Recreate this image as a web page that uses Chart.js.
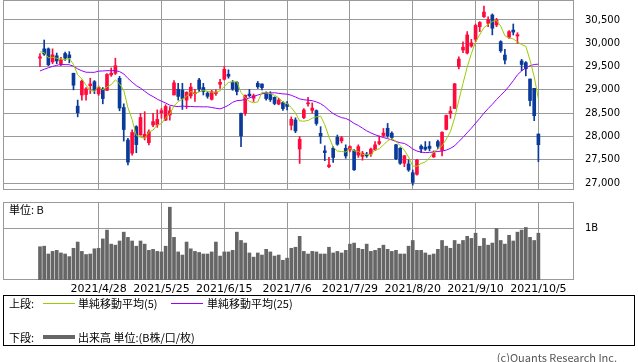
<!DOCTYPE html>
<html>
<head>
<meta charset="utf-8">
<script src="https://cdn.jsdelivr.net/npm/chart.js@4.4.1/dist/chart.umd.min.js"></script>
<style>
body{margin:0;width:638px;height:362px;position:relative;background:#fff;overflow:hidden;
font-family:"Noto Sans CJK JP","DejaVu Sans",sans-serif;font-size:11px;color:#000}
canvas{position:absolute;left:0}
.t{position:absolute;white-space:nowrap;line-height:12px}
.ln{position:absolute;width:32px;height:1px}
#legend{position:absolute;left:3px;top:295px;width:630px;height:49px;border:1px solid #000}
</style>
</head>
<body>
<canvas id="price" width="638" height="191" style="top:0"></canvas>
<canvas id="vol" width="638" height="110" style="top:190px"></canvas>
<div class="t" style="left:9px;top:203px">単位: B</div>

<div id="legend">
<div class="t" style="left:5px;top:1px">上段:</div>
<div class="ln" style="left:39px;top:7px;background:#99cc00"></div>
<div class="t" style="left:74px;top:1px">単純移動平均(5)</div>
<div class="ln" style="left:167px;top:7px;background:#9900ff"></div>
<div class="t" style="left:203px;top:1px">単純移動平均(25)</div>
<div class="t" style="left:5px;top:35px">下段:</div>
<div class="ln" style="left:39px;top:39px;height:4px;background:#666"></div>
<div class="t" style="left:74px;top:35px">出来高 単位:(B株/口/枚)</div>
</div>

<div class="t" style="right:21px;top:351px;color:#555">(c)Quants Research Inc.</div>

<script>
// trading days shown
const dates = ["2021/4/8","2021/4/9","2021/4/12","2021/4/13","2021/4/14","2021/4/15","2021/4/16","2021/4/19","2021/4/20","2021/4/21",
"2021/4/22","2021/4/23","2021/4/26","2021/4/27","2021/4/28","2021/4/30","2021/5/6","2021/5/7","2021/5/10","2021/5/11",
"2021/5/12","2021/5/13","2021/5/14","2021/5/17","2021/5/18","2021/5/19","2021/5/20","2021/5/21","2021/5/24","2021/5/25",
"2021/5/26","2021/5/27","2021/5/28","2021/5/31","2021/6/1","2021/6/2","2021/6/3","2021/6/4","2021/6/7","2021/6/8",
"2021/6/9","2021/6/10","2021/6/11","2021/6/14","2021/6/15","2021/6/16","2021/6/17","2021/6/18","2021/6/21","2021/6/22",
"2021/6/23","2021/6/24","2021/6/25","2021/6/28","2021/6/29","2021/6/30","2021/7/1","2021/7/2","2021/7/5","2021/7/6",
"2021/7/7","2021/7/8","2021/7/9","2021/7/12","2021/7/13","2021/7/14","2021/7/15","2021/7/16","2021/7/19","2021/7/20",
"2021/7/21","2021/7/26","2021/7/27","2021/7/28","2021/7/29","2021/7/30","2021/8/2","2021/8/3","2021/8/4","2021/8/5",
"2021/8/6","2021/8/10","2021/8/11","2021/8/12","2021/8/13","2021/8/16","2021/8/17","2021/8/18","2021/8/19","2021/8/20",
"2021/8/23","2021/8/24","2021/8/25","2021/8/26","2021/8/27","2021/8/30","2021/8/31","2021/9/1","2021/9/2","2021/9/3",
"2021/9/6","2021/9/7","2021/9/8","2021/9/9","2021/9/10","2021/9/13","2021/9/14","2021/9/15","2021/9/16","2021/9/17",
"2021/9/21","2021/9/22","2021/9/24","2021/9/27","2021/9/28","2021/9/29","2021/9/30","2021/10/1","2021/10/4","2021/10/5"];

const opens = [29680,29880,29880,29600,29730,29550,29780,29750,29355,28650,
28890,28900,29090,29175,28915,29010,28990,29320,29355,29247,
28620,27923,27640,28210,28030,27981,27866,28246,28246,28510,
28350,28460,28890,29012,28997,28780,28870,28920,29212,29050,
28928,28797,28920,29120,29226,29335,29160,29160,28497,28497,
28910,28820,29141,29126,28940,28910,28840,28695,28725,28695,
28240,28353,27730,28404,28700,28560,28554,28067,27690,27352,
27745,27981,27905,27745,27710,27695,27600,27570,27620,27620,
27710,27850,28020,28175,28070,27820,27745,27424,27410,27222,
27187,27790,27770,27790,27560,27890,27700,28152,28495,28600,
29500,29855,29790,29940,30085,30355,30570,30430,30607,30392,
30034,29748,30128,30284,30156,29620,29584,29233,29033,28052];

const highs = [29780,30070,29900,29880,29790,29700,29810,29820,29360,28780,
29210,29050,29250,29200,29080,29050,29350,29470,29680,29290,
28700,27960,28140,28230,28496,28532,28140,28496,28570,28600,
28680,28640,29200,29140,29140,28960,29140,29010,29250,29140,
28960,28990,29000,29225,29500,29430,29200,29180,28500,28890,
29010,28910,29180,29130,28960,28960,28850,28820,28750,28750,
28420,28400,28000,28600,28840,28720,28570,28210,27800,27550,
27780,28030,28000,27820,27800,27720,27820,27680,27660,27750,
27890,28010,28170,28280,28100,27830,27760,27590,27500,27280,
27510,27820,27890,27890,27690,27920,28100,28460,28640,29140,
29710,30030,30250,30085,30410,30465,30800,30570,30630,30535,
30055,29870,30270,30414,30228,29655,29605,29233,29033,28052];

const lows = [29500,29740,29520,29560,29560,29520,29630,29580,29000,28420,
28780,28780,28920,28920,28880,28700,28980,29290,29330,28550,
27900,27386,27600,27650,28030,27924,27816,28210,28196,28390,
28340,28350,28890,28780,28580,28600,28820,28750,28960,28890,
28820,28780,28880,29030,29210,29250,28990,28890,27781,28450,
28850,28750,29030,29000,28780,28750,28680,28680,28560,28570,
28140,28080,27420,28380,28650,28500,28240,27850,27480,27330,
27440,27810,27860,27530,27670,27270,27550,27490,27550,27570,
27700,27820,27990,27980,27940,27500,27400,27350,27250,26954,
27170,27650,27700,27690,27550,27740,27580,28140,28390,28600,
29450,29800,29770,29915,30035,30250,30556,30355,30180,30355,
29805,29555,30105,30178,29999,29412,29297,28653,28338,27458];

const closes = [29709,29768,29539,29752,29621,29643,29683,29685,29100,28509,
29188,29021,29126,28992,29054,28813,29331,29358,29518,28609,
28148,27448,28084,27825,28407,28044,28098,28318,28365,28554,
28642,28549,29149,28860,28814,28946,29058,28942,29019,28964,
28861,28959,28949,29162,29441,29291,29018,28964,28011,28884,
28875,28875,29066,29048,28813,28792,28707,28783,28598,28643,
28367,28118,27940,28569,28718,28608,28279,28003,27653,27388,
27548,27833,27970,27582,27782,27284,27781,27642,27584,27728,
27820,27888,28071,28015,27977,27523,27424,27586,27281,27013,
27494,27732,27725,27742,27641,27789,28090,28451,28544,29128,
29660,29916,30181,30008,30382,30447,30670,30512,30323,30500,
29840,29639,30249,30240,30184,29544,29453,28771,28445,27822];

// closes of the 24 days before the window, needed by the averages
const priorCloses = [28864,28743,29028,29036,29211,29717,29766,29921,29914,30216,
29792,29174,28996,28405,28730,29177,29385,29433,29179,29389,29854,30089,29697,29731];

// volume in billions of shares
const volumes = [0.64,0.65,0.50,0.55,0.57,0.52,0.50,0.45,0.61,0.73,
0.55,0.49,0.50,0.60,0.61,0.79,0.96,0.69,0.67,0.75,
0.92,0.82,0.75,0.65,0.75,0.69,0.57,0.59,0.55,0.54,
0.65,1.40,0.82,0.54,0.48,0.73,0.60,0.55,0.53,0.50,
0.50,0.54,0.73,0.46,0.54,0.54,0.57,0.92,0.76,0.71,
0.52,0.44,0.52,0.48,0.59,0.54,0.46,0.48,0.38,0.42,
0.61,0.63,0.84,0.55,0.50,0.55,0.54,0.50,0.50,0.63,
0.52,0.55,0.52,0.57,0.69,0.71,0.61,0.59,0.69,0.55,
0.57,0.61,0.67,0.59,0.55,0.57,0.50,0.50,0.65,0.76,
0.57,0.57,0.52,0.48,0.50,0.59,0.76,0.65,0.61,0.76,
0.69,0.76,0.84,0.80,0.90,0.65,0.80,0.67,0.71,0.99,
0.76,0.69,0.86,0.75,0.92,0.96,1.01,0.82,0.76,0.90];

const priceTicks = [27000,27500,28000,28500,29000,29500,30000,30500];
const volTicks = [1];
const dateTickIdx = [14,29,44,59,74,89,104,119];

const RED = "#ff0a3c", BLUE = "#0a3a9a", GRID = "#999";

function sma(n){
  let all = priorCloses.concat(closes);
  let off = priorCloses.length;
  return closes.map((c,i) => {
    let s = 0;
    for(let k=0;k<n;k++) s += all[off+i-k];
    return s/n;
  });
}
let ma5 = sma(5), ma25 = sma(25);
let colors = closes.map((c,i) => c >= opens[i] ? RED : BLUE);

/* box round the plot area */
const frame = {
  id: "frame",
  beforeDatasetsDraw(ch){
    let a = ch.chartArea, c = ch.ctx;
    c.save();
    c.strokeStyle = GRID;
    c.lineWidth = 1;
    c.strokeRect(Math.round(a.left)+0.5, Math.round(a.top)+0.5, Math.round(a.right-a.left)-1, Math.round(a.bottom-a.top)-1);
    c.restore();
  }
};

// no label padding reserved: plot area comes from layout.padding only
function noPad(s){
  s.paddingTop = 0; s.paddingBottom = 0; s.paddingLeft = 0; s.paddingRight = 0;
}

const xMin = -8.83, xMax = 127.5;

function xScale(showLabels){
  return {
    type: "linear", min: xMin, max: xMax, offset: false,
    afterBuildTicks: s => { s.ticks = dateTickIdx.map(v => ({value: v})); },
    ticks: {
      display: showLabels, autoSkip: false, maxRotation: 0, padding: 3,
      color: "#000", font: {family: "DejaVu Sans", size: 11},
      callback: v => dates[v]
    },
    grid: {color: GRID, drawTicks: false, offset: false},
    border: {display: false},
    afterFit: s => { s.height = showLabels ? 20 : 0; noPad(s); }
  };
}

function yScale(min, max, ticks, fmt){
  return {
    position: "right", min: min, max: max,
    afterBuildTicks: s => { s.ticks = ticks.map(v => ({value: v})); },
    ticks: {padding: 11, color: "#000", font: {family: "DejaVu Sans", size: 10}, callback: fmt},
    grid: {color: GRID, drawTicks: false},
    border: {display: false},
    afterFit: s => { s.width = 64; noPad(s); }
  };
}

Chart.defaults.animation = false;

new Chart(document.getElementById("price"), {
  type: "bar",
  data: {
    datasets: [
      {type: "line", data: ma5.map((v,i) => ({x: i, y: v})), borderColor: "#99cc00", borderWidth: 1, pointRadius: 0, order: 0},
      {type: "line", data: ma25.map((v,i) => ({x: i, y: v})), borderColor: "#9900ff", borderWidth: 1, pointRadius: 0, order: 1},
      {data: opens.map((o,i) => ({x: i, y: [o, closes[i]]})), backgroundColor: colors, barThickness: 3, minBarLength: 1, grouped: false, order: 2},
      {data: lows.map((l,i) => ({x: i, y: [l, highs[i]]})), backgroundColor: colors, barThickness: 1, grouped: false, order: 3}
    ]
  },
  options: {
    responsive: false,
    devicePixelRatio: 1,
    layout: {padding: {left: 3, top: 0, right: 0, bottom: 1}},
    plugins: {legend: {display: false}, tooltip: {enabled: false}},
    scales: {
      x: xScale(false),
      y: yScale(26850, 30929, priceTicks, v => v.toLocaleString("en-US"))
    }
  },
  plugins: [frame]
});

new Chart(document.getElementById("vol"), {
  type: "bar",
  data: {
    datasets: [
      {data: volumes.map((v,i) => ({x: i, y: v})), backgroundColor: "#666", barThickness: 3, grouped: false}
    ]
  },
  options: {
    responsive: false,
    devicePixelRatio: 1,
    layout: {padding: {left: 3, top: 12, right: 0, bottom: 0}},
    plugins: {legend: {display: false}, tooltip: {enabled: false}},
    scales: {
      x: xScale(true),
      y: yScale(0, 1.5, volTicks, v => v + "B")
    }
  },
  plugins: [frame]
});
</script>
</body>
</html>
